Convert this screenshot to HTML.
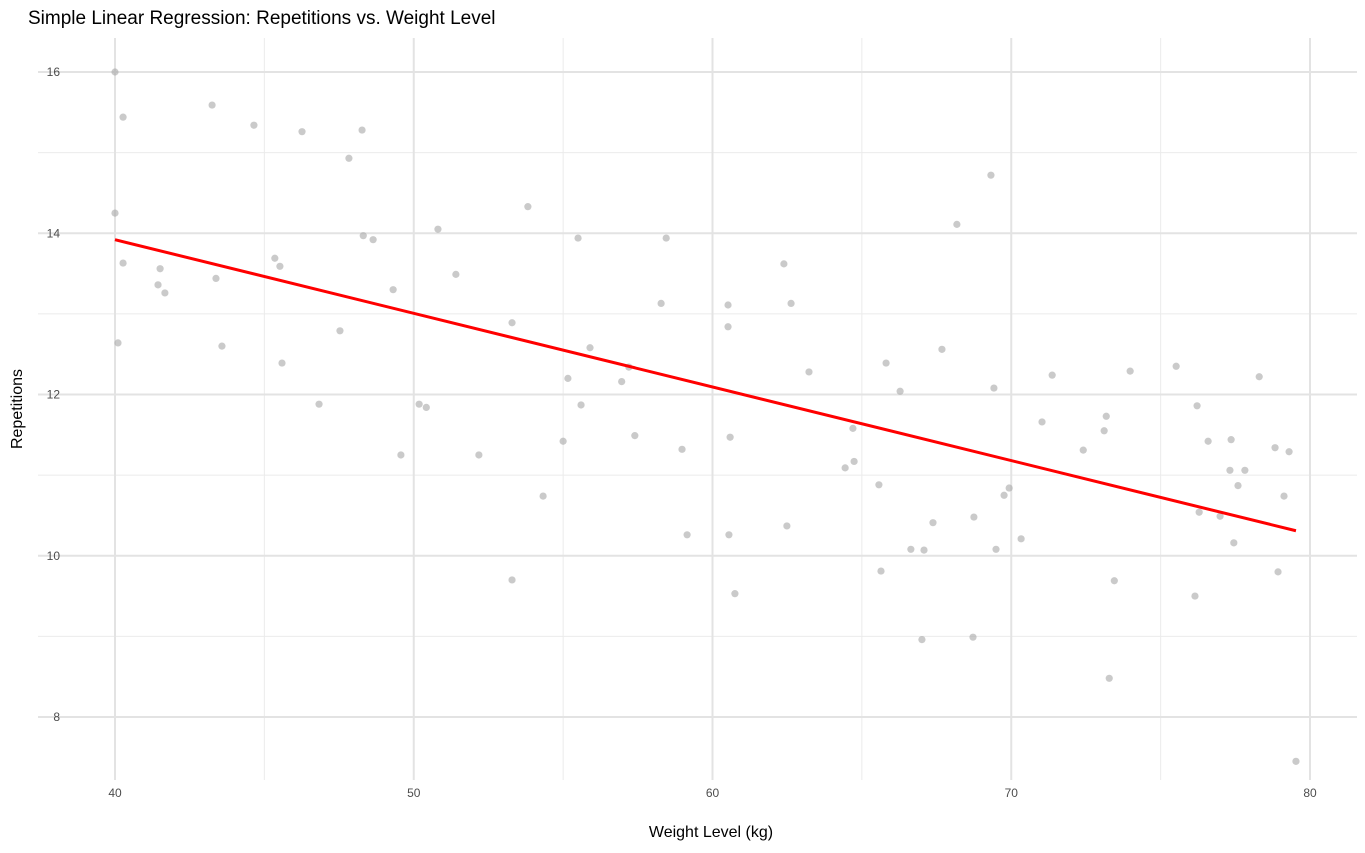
<!DOCTYPE html>
<html><head><meta charset="utf-8"><style>
body{margin:0;background:#fff;font-family:"Liberation Sans",Arial,sans-serif}
</style></head><body>
<svg id="chart" width="1365" height="848" xmlns="http://www.w3.org/2000/svg">
<text x="28" y="24" font-size="19" fill="#000">Simple Linear Regression: Repetitions vs. Weight Level</text>
<g id="grid"></g><g id="pts"></g><g id="line"></g><g id="ticks"></g>
<text x="711" y="837" font-size="16" text-anchor="middle" fill="#000">Weight Level (kg)</text>
<text transform="translate(22,409) rotate(-90)" font-size="16" text-anchor="middle" fill="#000">Repetitions</text>
</svg>
<script>
const xs=[40.0,40.27,43.25,44.65,46.26,48.27,47.83,40.0,40.27,41.51,41.44,41.67,43.38,40.1,43.58,45.35,45.52,45.59,47.53,46.83,48.31,48.64,49.31,50.81,51.41,50.18,50.42,49.57,52.18,53.29,53.82,55.5,55.9,55.16,57.2,56.96,55.6,57.4,55.0,54.33,53.29,58.28,58.45,58.98,59.15,60.52,60.52,60.59,60.55,60.75,62.39,62.63,63.23,62.49,65.81,66.28,67.68,68.18,69.32,69.42,64.7,64.74,64.44,65.57,69.76,69.93,67.38,68.75,66.64,67.08,65.64,67.01,68.72,69.49,70.33,71.03,71.37,72.41,73.18,73.11,73.45,73.28,73.98,75.52,76.22,76.59,77.36,77.32,77.82,77.59,76.99,76.29,77.45,76.15,78.3,78.83,79.30,79.13,78.93,79.53];
const ys=[16.0,15.44,15.59,15.34,15.26,15.28,14.93,14.25,13.63,13.56,13.36,13.26,13.44,12.64,12.60,13.69,13.59,12.39,12.79,11.88,13.97,13.92,13.30,14.05,13.49,11.88,11.84,11.25,11.25,12.89,14.33,13.94,12.58,12.20,12.34,12.16,11.87,11.49,11.42,10.74,9.70,13.13,13.94,11.32,10.26,13.11,12.84,11.47,10.26,9.53,13.62,13.13,12.28,10.37,12.39,12.04,12.56,14.11,14.72,12.08,11.58,11.17,11.09,10.88,10.75,10.84,10.41,10.48,10.08,10.07,9.81,8.96,8.99,10.08,10.21,11.66,12.24,11.31,11.73,11.55,9.69,8.48,12.29,12.35,11.86,11.42,11.44,11.06,11.06,10.87,10.49,10.54,10.16,9.50,12.22,11.34,11.29,10.74,9.80,7.45];
const lineX=[40,79.53];
const lineY=[13.92,10.31];
const xTicks=[40,50,60,70,80];
const yTicks=[8,10,12,14,16];
const xMinor=[45,55,65,75];
const yMinor=[9,11,13,15];
const X=v=>115+(v-40)*29.875;
const Y=v=>72+(16-v)*80.625;
const NS="http://www.w3.org/2000/svg";
function mk(p,t,a){const e=document.createElementNS(NS,t);for(const k in a)e.setAttribute(k,a[k]);p.appendChild(e);return e;}
const g=document.getElementById('grid'),tk=document.getElementById('ticks');
xMinor.forEach(v=>{const e=mk(g,'line',{x1:X(v),x2:X(v),y1:38,y2:780,stroke:'#ebebeb','stroke-width':1});

});
yMinor.forEach(v=>{const e=mk(g,'line',{x1:38,x2:1357,y1:Y(v),y2:Y(v),stroke:'#ebebeb','stroke-width':1});

});
xTicks.forEach(v=>{const e=mk(g,'line',{x1:X(v),x2:X(v),y1:38,y2:780,stroke:'#e3e3e3','stroke-width':2});


const t=mk(tk,'text',{x:X(v),y:797,'font-size':12,'text-anchor':'middle',fill:'#4d4d4d'});t.textContent=v;

});
yTicks.forEach(v=>{const e=mk(g,'line',{x1:38,x2:1357,y1:Y(v),y2:Y(v),stroke:'#e3e3e3','stroke-width':2});


const t=mk(tk,'text',{x:60,y:Y(v)+4,'font-size':12,'text-anchor':'end',fill:'#4d4d4d'});t.textContent=v;

});
const p=document.getElementById('pts');
xs.forEach((v,i)=>{const c=mk(p,'circle',{cx:X(v),cy:Y(ys[i]),r:3.6,fill:'#a6a6a6','fill-opacity':0.6});

});
const l=mk(document.getElementById('line'),'line',{x1:X(lineX[0]),y1:Y(lineY[0]),x2:X(lineX[1]),y2:Y(lineY[1]),stroke:'#ff0000','stroke-width':3});


</script>
</body></html>
